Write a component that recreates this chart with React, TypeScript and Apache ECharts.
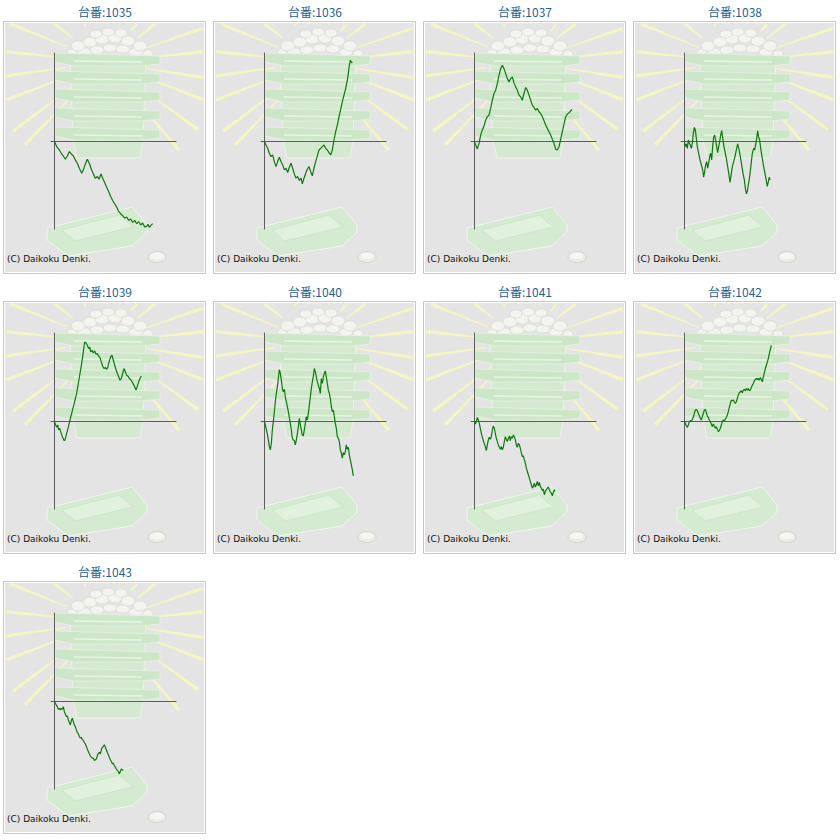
import React, { useEffect, useRef } from "react";
import * as echarts from "echarts";

// ---- data ----
const machineNumbers = ["1035", "1036", "1037", "1038", "1039", "1040", "1041", "1042", "1043"];
const titlePrefix = "台番:";
const copyrightText = "(C) Daikoku Denki.";

// [games, coin difference]
const series1035 = [
  [0, 0], [140, -340], [300, -540], [440, -780], [540, -900], [660, -1100], [780, -900], [900, -640],
  [1020, -780], [1140, -900], [1260, -1140], [1380, -1340], [1500, -1640], [1640, -1940], [1740, -1740],
  [1840, -1440], [1980, -1100], [2100, -1340], [2220, -1700], [2340, -1980], [2460, -2240], [2580, -2140],
  [2680, -2300], [2800, -1980], [2900, -2240], [3020, -2500], [3140, -2780], [3260, -3040], [3380, -3340],
  [3500, -3580], [3620, -3780], [3740, -3980], [3860, -4240], [3980, -4380], [4100, -4500], [4220, -4640],
  [4340, -4580], [4460, -4780], [4580, -4700], [4700, -4900], [4820, -4780], [4940, -4980], [5060, -4860],
  [5180, -5060], [5300, -4940], [5420, -5180], [5540, -5140], [5620, -5020], [5700, -5200], [5780, -5100],
  [5900, -4980],
];
const series1036 = [
  [0, 0], [100, -240], [200, -440], [300, -740], [400, -940], [500, -840], [600, -1240], [700, -1540],
  [800, -1240], [900, -980], [1000, -1240], [1100, -1440], [1200, -1740], [1300, -1640], [1400, -1900],
  [1500, -1580], [1600, -1340], [1700, -1640], [1800, -1980], [1900, -2240], [2000, -2140], [2100, -2380],
  [2200, -2240], [2280, -2580], [2380, -2240], [2480, -1940], [2580, -1700], [2680, -1540], [2780, -1840],
  [2880, -2100], [2980, -1640], [3080, -1240], [3180, -900], [3280, -540], [3380, -440], [3480, -340],
  [3580, -240], [3680, -440], [3780, -540], [3880, -700], [3980, -840], [4080, -540], [4180, 60],
  [4280, 560], [4380, 960], [4480, 1460], [4580, 1900], [4680, 2360], [4780, 2760], [4880, 3160],
  [4980, 3660], [5040, 4060], [5100, 4560], [5160, 4860], [5220, 4760], [5280, 4700],
];
const series1037 = [
  [0, 0], [80, -240], [180, -480], [280, -140], [380, 360], [480, 660], [580, 900], [680, 1260],
  [780, 1460], [880, 1560], [980, 1960], [1080, 2460], [1180, 2860], [1280, 3060], [1380, 3460],
  [1480, 3960], [1580, 4360], [1680, 4560], [1780, 4360], [1880, 4060], [1980, 3760], [2080, 3560],
  [2180, 3760], [2280, 3860], [2380, 3500], [2480, 3260], [2580, 3060], [2680, 2760], [2780, 2660],
  [2880, 2460], [2980, 2860], [3080, 3220], [3180, 3060], [3280, 2760], [3380, 2460], [3480, 2160],
  [3580, 2020], [3680, 1860], [3780, 1960], [3880, 1760], [3980, 1660], [4080, 1460], [4180, 1220],
  [4280, 960], [4380, 760], [4480, 560], [4580, 360], [4680, 100], [4780, -140], [4880, -500],
  [4980, -540], [5080, -340], [5180, 100], [5280, 560], [5380, 1020], [5480, 1460], [5580, 1620],
  [5680, 1700], [5780, 1820], [5860, 1900],
];
const series1038 = [
  [0, 0], [60, -340], [120, -180], [180, -440], [240, 60], [300, -140], [360, -240], [420, -440],
  [480, -140], [540, 460], [600, 820], [660, 660], [720, 160], [780, -340], [860, -740], [940, -1140],
  [1020, -1440], [1100, -1740], [1160, -2180], [1220, -1840], [1280, -1440], [1340, -1240], [1400, -1640],
  [1460, -1340], [1520, -940], [1580, -740], [1640, -1140], [1700, -340], [1760, 220], [1820, 360],
  [1880, 60], [1940, -340], [2000, -700], [2060, -340], [2120, -40], [2180, 360], [2240, 620],
  [2300, 220], [2360, -240], [2440, -640], [2520, -1040], [2600, -1540], [2680, -2040], [2740, -2500],
  [2800, -2100], [2880, -1540], [2960, -1240], [3040, -940], [3120, -540], [3200, -180], [3280, -500],
  [3360, -940], [3440, -1440], [3520, -1940], [3600, -2340], [3660, -2840], [3720, -3180], [3780, -3040],
  [3840, -2640], [3920, -2140], [4000, -1440], [4080, -740], [4160, -440], [4220, -540], [4280, -240],
  [4340, 160], [4400, 620], [4460, 220], [4520, 60], [4580, -440], [4660, -940], [4740, -1440],
  [4820, -1840], [4900, -2300], [4980, -2740], [5040, -2440], [5100, -2180], [5140, -2340],
];
const series1039 = [
  [0, 0], [80, -240], [140, -380], [200, -240], [260, -540], [320, -440], [400, -700], [480, -940],
  [580, -1180], [640, -1140], [740, -740], [840, -380], [940, 60], [1040, 460], [1140, 860], [1240, 1260],
  [1340, 1660], [1440, 2260], [1540, 2860], [1640, 3460], [1740, 4160], [1820, 4760], [1900, 4700],
  [1980, 4560], [2060, 4360], [2120, 4460], [2180, 4160], [2260, 4260], [2340, 4100], [2420, 4220],
  [2500, 4020], [2580, 4060], [2660, 3900], [2740, 3820], [2820, 3560], [2900, 3300], [2980, 3160],
  [3060, 3220], [3140, 3100], [3220, 3300], [3300, 3620], [3380, 3860], [3460, 3960], [3540, 3660],
  [3620, 3360], [3700, 3100], [3780, 2860], [3860, 2660], [3940, 2460], [4020, 2560], [4100, 2860],
  [4180, 3160], [4260, 2960], [4340, 2760], [4420, 2700], [4500, 2560], [4580, 2500], [4660, 2360],
  [4740, 2220], [4820, 2060], [4900, 1860], [4980, 2100], [5060, 2360], [5140, 2560], [5220, 2700],
];
const series1040 = [
  [0, 0], [60, -240], [120, -500], [180, -780], [240, -1140], [300, -1540], [360, -1740], [420, -1340],
  [480, -540], [540, -40], [600, 560], [660, 1160], [720, 1660], [780, 2060], [840, 2560], [900, 3100],
  [960, 2860], [1020, 2460], [1080, 1960], [1140, 1760], [1200, 1900], [1260, 1460], [1320, 1160],
  [1380, 860], [1440, 560], [1500, 220], [1560, -140], [1620, -540], [1680, -1040], [1740, -1140],
  [1800, -1180], [1860, -1440], [1920, -1140], [1980, -780], [2040, -340], [2100, 160], [2160, -240],
  [2220, -540], [2280, -840], [2340, -900], [2400, -540], [2460, -140], [2520, 260], [2580, 60],
  [2640, 460], [2700, 960], [2760, 1460], [2820, 1960], [2880, 2360], [2940, 2700], [3000, 3160],
  [3060, 2960], [3120, 2660], [3180, 2360], [3240, 2160], [3300, 1960], [3360, 1660], [3420, 2560],
  [3480, 2260], [3540, 2660], [3600, 2860], [3660, 3020], [3720, 2660], [3780, 2260], [3840, 1860],
  [3900, 1660], [3960, 1360], [4020, 860], [4080, 560], [4140, 660], [4200, 260], [4260, -140],
  [4320, -440], [4380, -940], [4440, -1040], [4500, -1240], [4560, -1740], [4620, -1940], [4680, -2240],
  [4740, -1900], [4800, -2040], [4860, -1840], [4920, -1440], [4980, -1700], [5040, -1580], [5100, -2040],
  [5160, -2340], [5220, -2640], [5280, -2940], [5340, -3300],
];
const series1041 = [
  [0, 0], [60, -180], [120, -40], [180, 220], [240, 60], [300, -140], [360, -440], [420, -740],
  [480, -980], [540, -1180], [600, -1380], [660, -1540], [720, -1780], [780, -1440], [840, -1140],
  [900, -980], [960, -1100], [1020, -940], [1080, -540], [1140, -300], [1200, -440], [1260, -740],
  [1320, -1040], [1380, -1240], [1440, -1440], [1500, -1580], [1560, -1700], [1620, -1540], [1680, -1740],
  [1740, -1580], [1800, -1240], [1860, -940], [1920, -1100], [1980, -1240], [2040, -1040], [2100, -900],
  [2160, -1180], [2220, -940], [2280, -1040], [2340, -840], [2400, -940], [2460, -1140], [2520, -1440],
  [2580, -1580], [2640, -1340], [2700, -1440], [2760, -1640], [2820, -1900], [2880, -2140], [2940, -2100],
  [3000, -2340], [3060, -2540], [3120, -2840], [3180, -3040], [3240, -3240], [3300, -3440], [3360, -3640],
  [3420, -3840], [3480, -4040], [3540, -3940], [3600, -3740], [3660, -3980], [3720, -3840], [3780, -3640],
  [3840, -3900], [3900, -3700], [3960, -3940], [4020, -4040], [4080, -4180], [4140, -4100], [4200, -4440],
  [4260, -4240], [4320, -4140], [4380, -4040], [4440, -3980], [4500, -4140], [4560, -4280], [4620, -4340],
  [4680, -4500], [4740, -4300], [4800, -4140], [4840, -4240],
];
const series1042 = [
  [0, 0], [60, -140], [120, -300], [180, -380], [240, -240], [300, -40], [360, 20], [420, -40],
  [480, 100], [540, 220], [600, 460], [660, 660], [720, 700], [780, 620], [840, 460], [900, 300],
  [960, 160], [1020, 60], [1080, 260], [1140, 460], [1200, 660], [1260, 700], [1320, 500], [1380, 300],
  [1440, 220], [1500, 60], [1560, -40], [1620, -180], [1680, -340], [1740, -180], [1800, -300],
  [1860, -440], [1920, -340], [1980, -500], [2040, -640], [2100, -580], [2160, -440], [2220, -240],
  [2280, -40], [2340, 60], [2400, 20], [2460, 100], [2520, 220], [2580, 360], [2640, 560], [2700, 820],
  [2760, 1060], [2820, 1260], [2880, 1220], [2940, 1260], [3000, 1160], [3060, 1060], [3120, 1160],
  [3180, 1360], [3240, 1560], [3300, 1700], [3360, 1760], [3420, 1820], [3480, 1700], [3540, 1860],
  [3600, 1900], [3660, 1820], [3720, 1960], [3780, 1860], [3840, 1960], [3900, 1820], [3960, 1860],
  [4020, 2020], [4080, 2160], [4140, 2260], [4200, 2420], [4260, 2500], [4320, 2560], [4380, 2500],
  [4440, 2560], [4500, 2460], [4560, 2620], [4620, 2500], [4680, 2360], [4740, 2660], [4800, 2900],
  [4860, 3160], [4920, 3360], [4980, 3560], [5040, 3760], [5100, 4060], [5160, 4300], [5220, 4560],
];
const series1043 = [
  [0, 0], [60, -140], [120, -240], [180, -340], [240, -500], [300, -440], [360, -540], [420, -440],
  [480, -500], [540, -340], [600, -640], [660, -780], [720, -940], [780, -900], [840, -1140], [900, -1300],
  [960, -1440], [1020, -1180], [1080, -1040], [1140, -1240], [1200, -1440], [1260, -1540], [1320, -1740],
  [1380, -1900], [1440, -1980], [1500, -2140], [1560, -2240], [1620, -2180], [1680, -2340], [1740, -2380],
  [1800, -2500], [1860, -2580], [1920, -2740], [1980, -2900], [2040, -3040], [2100, -3180], [2160, -3300],
  [2220, -3380], [2280, -3440], [2340, -3440], [2400, -3580], [2460, -3540], [2520, -3500], [2580, -3300],
  [2640, -3140], [2700, -3100], [2760, -3180], [2820, -2940], [2880, -2780], [2940, -2740], [3000, -2640],
  [3060, -2780], [3120, -2940], [3180, -3100], [3240, -3240], [3300, -3380], [3360, -3540], [3420, -3640],
  [3480, -3780], [3540, -3740], [3600, -3900], [3660, -3980], [3720, -4100], [3780, -4180], [3840, -4240],
  [3900, -4380], [3960, -4240], [4020, -4100], [4080, -4140], [4140, -4180],
];
const seriesList = [series1035, series1036, series1037, series1038, series1039, series1040, series1041, series1042, series1043];

const gamesMin = -200;
const gamesMax = 7300;
const coinsMin = -5300;
const coinsMax = 5300;

// ---- decoration (layout only) ----
const rayAngles = [-174, -158, -143, -119, -100, -87, -69, -50, -37, -19, -6, 9, 21, 36, 50, 134, 143, 159, 172];
const ballSpots = [
  [72, 53, 5, 4], [148, 54, 5, 4], [84, 52, 7, 4], [97, 50, 7, 4], [110, 48, 7, 4], [123, 49, 7, 4], [136, 52, 7, 4],
  [78, 46, 7, 5], [90, 42, 7, 5], [102, 39, 7, 5], [115, 38, 7, 5], [128, 41, 7, 5], [140, 46, 7, 5],
  [96, 34, 6, 4], [108, 32, 6, 4], [121, 33, 6, 4],
];
const layerTops = [53, 71, 89, 108, 127];

function panelGraphics(px: number, py: number) {
  const els: any[] = [];
  const P = (x: number, y: number) => [px + x, py + y];
  els.push({ type: "rect", silent: true, z: 0, shape: { x: px + 3.5, y: py + 21.5, width: 202, height: 252 }, style: { fill: "#e4e4e4", stroke: "#c6c6c6", lineWidth: 1 } });
  els.push({ type: "rect", silent: true, z: 0, shape: { x: px + 4.5, y: py + 22.5, width: 200, height: 250 }, style: { fill: "none", stroke: "#ffffff", lineWidth: 1 } });
  // rays
  const cx = px + 105, cy = py + 62;
  const bx0 = px + 6, bx1 = px + 203, by0 = py + 24, by1 = py + 271;
  rayAngles.forEach((a) => {
    const r = (a * Math.PI) / 180;
    const dx = Math.cos(r), dy = Math.sin(r);
    let t = 115;
    if (dx > 0) t = Math.min(t, (bx1 - cx) / dx);
    if (dx < 0) t = Math.min(t, (bx0 - cx) / dx);
    if (dy > 0) t = Math.min(t, (by1 - cy) / dy);
    if (dy < 0) t = Math.min(t, (by0 - cy) / dy);
    const r0 = 40;
    const nx = -dy, ny = dx;
    const w0 = 0.6, w1 = 1.7;
    els.push({
      type: "polygon", silent: true, z: 1,
      shape: { points: [
        [cx + dx * r0 + nx * w0, cy + dy * r0 + ny * w0],
        [cx + dx * t + nx * w1, cy + dy * t + ny * w1],
        [cx + dx * t - nx * w1, cy + dy * t - ny * w1],
        [cx + dx * r0 - nx * w0, cy + dy * r0 - ny * w0],
      ] },
      style: { fill: "#f5f5c2" },
    });
  });
  // balls
  ballSpots.forEach(([bx, by, rx, ry]) => {
    els.push({ type: "ellipse", silent: true, z: 2, shape: { cx: px + bx, cy: py + by, rx, ry }, style: { fill: "#f3f3ef", stroke: "#dcdcd5", lineWidth: 0.8 } });
  });
  // column body
  els.push({ type: "polygon", silent: true, z: 3, shape: { points: [P(70, 56), P(146, 56), P(143, 140), P(140, 158), P(77, 158), P(73, 140)] }, style: { fill: "#d4e9d0", stroke: "#e9f4e7", lineWidth: 1 } });
  // layers
  layerTops.forEach((y) => {
    els.push({ type: "polygon", silent: true, z: 4, shape: { points: [P(55, y), P(160, y + 3), P(160, y + 11), P(142, y + 13), P(74, y + 13), P(55, y + 9)] }, style: { fill: "#cde6c8", stroke: "#e6f2e3", lineWidth: 0.8 } });
    els.push({ type: "line", silent: true, z: 5, shape: { x1: px + 74, y1: py + y + 8, x2: px + 142, y2: py + y + 9 }, style: { stroke: "#e7f4e4", lineWidth: 1.5 } });
  });
  // tray
  els.push({ type: "polygon", silent: true, z: 3, shape: { points: [P(47, 228), P(132, 207), P(147, 225), P(147, 232), P(132, 246), P(68, 256), P(47, 240)] }, style: { fill: "#d5ebd1", stroke: "#eef7ec", lineWidth: 1 } });
  els.push({ type: "polygon", silent: true, z: 4, shape: { points: [P(62, 230), P(119, 215), P(133, 227), P(75, 241)] }, style: { fill: "#e1f1de", stroke: "#cde5c9", lineWidth: 1 } });
  // coin
  els.push({ type: "ellipse", silent: true, z: 3, shape: { cx: px + 157, cy: py + 257, rx: 9, ry: 5.5 }, style: { fill: "#efefea", stroke: "#cdcdc7", lineWidth: 0.8 } });
  els.push({ type: "ellipse", silent: true, z: 4, shape: { cx: px + 157, cy: py + 256, rx: 7, ry: 3.8 }, style: { fill: "#f6f6f2", stroke: "#e0e0da", lineWidth: 0.6 } });
  // copyright
  els.push({ type: "text", silent: true, z: 6, x: px + 7, y: py + 259, style: { text: copyrightText, fill: "#111111", fontSize: 9, fontFamily: "DejaVu Sans", verticalAlign: "middle", align: "left" } });
  return els;
}

export default function App() {
  const ref = useRef<HTMLDivElement>(null);
  useEffect(() => {
    if (!ref.current) return;
    const chart = echarts.init(ref.current, undefined, { renderer: "svg" });
    const grids: any[] = [];
    const xAxes: any[] = [];
    const yAxes: any[] = [];
    const series: any[] = [];
    let graphics: any[] = [];
    machineNumbers.forEach((num, i) => {
      const col = i % 4;
      const row = Math.floor(i / 4);
      const px = col * 210;
      const py = row * 280;
      graphics = graphics.concat(panelGraphics(px, py));
      graphics.push({ type: "text", silent: true, z: 6, x: px + 105, y: py + 11, style: { text: titlePrefix + num, fill: "#1f5f95", fontSize: 12, fontFamily: "Noto Sans CJK JP", align: "center", verticalAlign: "middle" } });
      grids.push({ left: px + 51, top: py + 53, width: 125, height: 176, containLabel: false });
      const axisCommon = {
        type: "value",
        gridIndex: i,
        z: 8,
        axisLine: { show: true, onZero: true, lineStyle: { color: "#5c5c5c", width: 1 } },
        axisTick: { show: false },
        axisLabel: { show: false },
        splitLine: { show: false },
      };
      xAxes.push({ ...axisCommon, min: gamesMin, max: gamesMax });
      yAxes.push({ ...axisCommon, min: coinsMin, max: coinsMax });
      series.push({
        type: "line",
        xAxisIndex: i,
        yAxisIndex: i,
        data: seriesList[i],
        symbol: "none",
        showSymbol: false,
        silent: true,
        z: 10,
        lineStyle: { color: "#0e780e", width: 1.2 },
      });
    });
    chart.setOption({
      animation: false,
      backgroundColor: "#ffffff",
      grid: grids,
      xAxis: xAxes,
      yAxis: yAxes,
      series,
      graphic: { elements: graphics },
    });
    return () => chart.dispose();
  }, []);
  return <div ref={ref} style={{ position: "absolute", left: 0, top: 0, width: 840, height: 840 }} />;
}
